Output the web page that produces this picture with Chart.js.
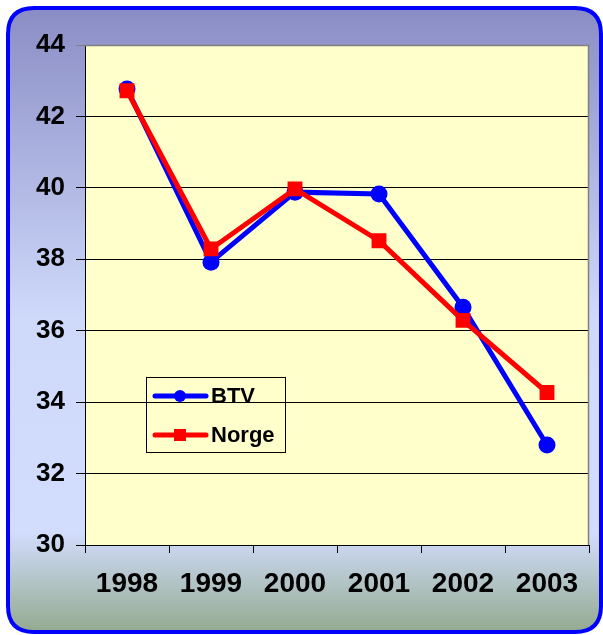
<!DOCTYPE html>
<html>
<head>
<meta charset="utf-8">
<script src="https://cdn.jsdelivr.net/npm/chart.js@4.4.0/dist/chart.umd.min.js"></script>
<style>
  html, body { margin: 0; padding: 0; background: #ffffff; }
  #wrap { width: 603px; height: 635px; position: relative; }
</style>
</head>
<body>
<div id="wrap"><canvas id="chart"></canvas></div>
<script>
// data
const years = ["1998", "1999", "2000", "2001", "2002", "2003"];
const btv = [42.77, 37.92, 39.88, 39.83, 36.66, 32.8];
const norge = [42.72, 38.29, 39.97, 38.52, 36.29, 34.27];
const yTicks = [30, 32, 34, 36, 38, 40, 42, 44];

const FONT = "'Liberation Sans', Arial, sans-serif";

// rounded panel, gradient and yellow plot area
const panelPlugin = {
    id: "panel",
    beforeDraw(chart) {
        const ctx = chart.ctx;
        const w = chart.width, h = chart.height;
        ctx.save();
        ctx.fillStyle = "#ffffff";
        ctx.fillRect(0, 0, w, h);

        const x0 = 8, y0 = 8, x1 = w - 2, y1 = h - 3, r = 26;
        ctx.beginPath();
        ctx.moveTo(x0 + r, y0);
        ctx.lineTo(x1 - r, y0);
        ctx.quadraticCurveTo(x1, y0, x1, y0 + r);
        ctx.lineTo(x1, y1 - r);
        ctx.quadraticCurveTo(x1, y1, x1 - r, y1);
        ctx.lineTo(x0 + r, y1);
        ctx.quadraticCurveTo(x0, y1, x0, y1 - r);
        ctx.lineTo(x0, y0 + r);
        ctx.quadraticCurveTo(x0, y0, x0 + r, y0);
        ctx.closePath();
        const g = ctx.createLinearGradient(0, y0, 0, y1);
        g.addColorStop(0, "#8a8dc5");
        g.addColorStop(0.5, "#cfdafb");
        g.addColorStop(0.84, "#d2ddfd");
        g.addColorStop(1, "#93aa8f");
        ctx.fillStyle = g;
        ctx.fill();
        ctx.lineWidth = 4;
        ctx.strokeStyle = "#0000ff";
        ctx.stroke();

        const a = chart.chartArea;
        ctx.fillStyle = "#ffffcc";
        ctx.fillRect(a.left, a.top, a.right - a.left, a.bottom - a.top);
        ctx.restore();
    },
    beforeDatasetsDraw(chart) {
        const ctx = chart.ctx;
        const a = chart.chartArea;
        ctx.save();
        ctx.strokeStyle = "#808080";
        ctx.lineWidth = 1.5;
        ctx.beginPath();
        ctx.moveTo(a.left, a.top + 0.5);
        ctx.lineTo(a.right - 0.5, a.top + 0.5);
        ctx.lineTo(a.right - 0.5, a.bottom);
        ctx.stroke();
        ctx.restore();
    }
};

// legend box inside the plot
const boxLegend = {
    id: "boxLegend",
    afterDraw(chart) {
        const ctx = chart.ctx;
        const bx = 146.5, by = 377.5, bw = 139, bh = 75;
        ctx.save();
        ctx.strokeStyle = "#000000";
        ctx.lineWidth = 1;
        ctx.strokeRect(bx, by, bw, bh);
        const rows = [396, 435];
        chart.data.datasets.forEach((ds, i) => {
            const y = rows[i];
            ctx.strokeStyle = ds.borderColor;
            ctx.lineWidth = 5;
            ctx.lineCap = "round";
            ctx.beginPath();
            ctx.moveTo(155, y);
            ctx.lineTo(206, y);
            ctx.stroke();
            ctx.fillStyle = ds.borderColor;
            if (ds.pointStyle === "rect") {
                ctx.fillRect(174, y - 6, 12, 12);
            } else {
                ctx.beginPath();
                ctx.arc(180, y, 6, 0, Math.PI * 2);
                ctx.fill();
            }
            ctx.fillStyle = "#000000";
            ctx.font = "bold 22px " + FONT;
            ctx.textBaseline = "middle";
            ctx.textAlign = "left";
            ctx.fillText(ds.label, 211, y + 1);
        });
        ctx.restore();
    }
};

new Chart(document.getElementById("chart"), {
    type: "line",
    data: {
        labels: years,
        datasets: [
            {
                label: "BTV",
                data: btv,
                borderColor: "#0000ff",
                backgroundColor: "#0000ff",
                borderWidth: 5,
                pointStyle: "circle",
                pointRadius: 8.5,
                pointBorderWidth: 0,
                tension: 0,
                order: 2
            },
            {
                label: "Norge",
                data: norge,
                borderColor: "#ff0000",
                backgroundColor: "#ff0000",
                borderWidth: 5,
                pointStyle: "rect",
                pointRadius: 10.5,
                pointBorderWidth: 0,
                tension: 0,
                order: 1
            }
        ]
    },
    options: {
        responsive: true,
        maintainAspectRatio: false,
        animation: false,
        layout: { padding: { top: 45, right: 14, left: 0, bottom: 0 } },
        plugins: {
            legend: { display: false },
            tooltip: { enabled: false }
        },
        scales: {
            x: {
                offset: true,
                afterFit(scale) { scale.height = 90; },
                grid: {
                    offset: true,
                    drawOnChartArea: false,
                    color: "#000000",
                    tickLength: 8,
                    tickWidth: 1
                },
                border: { color: "#000000", width: 1 },
                ticks: {
                    color: "#000000",
                    padding: 14,
                    maxRotation: 0,
                    font: { family: FONT, size: 28, weight: "bold" }
                }
            },
            y: {
                min: yTicks[0],
                max: yTicks[yTicks.length - 1],
                afterFit(scale) { scale.width = 85; },
                afterBuildTicks(scale) { scale.ticks = yTicks.map(v => ({ value: v })); },
                grid: {
                    color: ctx => (ctx.tick && ctx.tick.value === 44 ? "#808080" : "#000000"),
                    lineWidth: 1,
                    tickLength: 9
                },
                border: { color: "#000000", width: 1 },
                ticks: {
                    color: "#000000",
                    padding: 11,
                    font: { family: FONT, size: 26, weight: "bold" }
                }
            }
        }
    },
    plugins: [panelPlugin, boxLegend]
});
</script>
</body>
</html>
